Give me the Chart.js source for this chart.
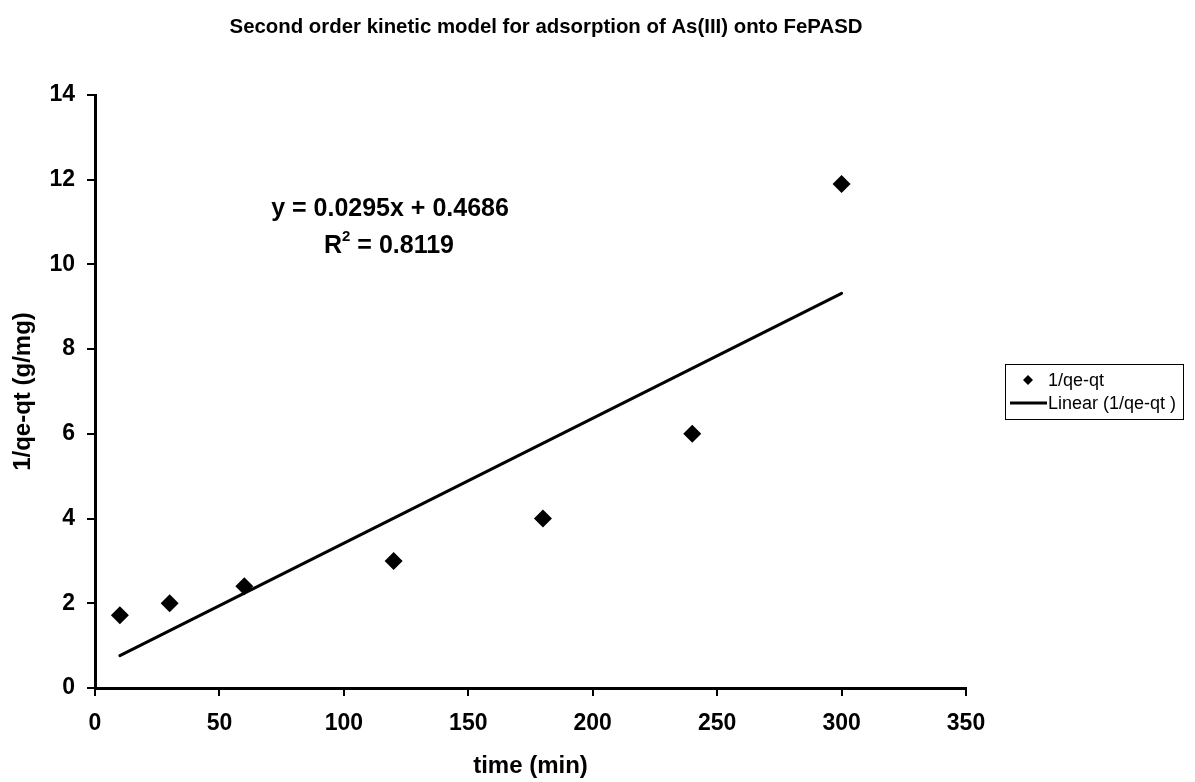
<!DOCTYPE html>
<html>
<head>
<meta charset="utf-8">
<script src="https://cdn.jsdelivr.net/npm/chart.js@4.4.1/dist/chart.umd.min.js"></script>
<style>
  html, body { margin: 0; padding: 0; background: #fff; }
  #wrap { width: 1195px; height: 782px; position: relative; }
</style>
</head>
<body>
<div id="wrap"><canvas id="c" width="1195" height="782"></canvas></div>
<script>
// Measured contact times (min) and the linearised uptake 1/(qe-qt) (g/mg)
const timeMin = [10, 30, 60, 120, 180, 240, 300];
const invQ = [1.72, 2.0, 2.4, 3.0, 4.0, 6.0, 11.9];

// Least-squares trendline as reported on the chart
const fitSlope = 0.0295;
const fitIntercept = 0.4686;
const fitR2 = 0.8119;
const fitRange = [10, 300];

const xTicks = [0, 50, 100, 150, 200, 250, 300, 350];
const yTicks = [0, 2, 4, 6, 8, 10, 12, 14];

const chartTitle = 'Second order kinetic model for adsorption of As(III) onto FePASD';
const seriesName = '1/qe-qt';
const trendName = 'Linear (1/qe-qt )';

const FONT = '"Liberation Sans", Arial, sans-serif';

const pointData = timeMin.map((t, i) => ({ x: t, y: invQ[i] }));
const trendData = fitRange.map(t => ({ x: t, y: fitSlope * t + fitIntercept }));

// Title, equation text and boxed legend drawn on the canvas
const decorations = {
  id: 'decorations',
  afterDraw(chart) {
    const ctx = chart.ctx;
    ctx.save();
    ctx.fillStyle = '#000';
    ctx.textBaseline = 'middle';

    // chart title
    ctx.font = 'bold 20.4px ' + FONT;
    ctx.textAlign = 'center';
    ctx.fillText(chartTitle, 546, 27);

    // trendline equation
    ctx.font = 'bold 25px ' + FONT;
    ctx.fillText('y = ' + fitSlope.toFixed(4) + 'x + ' + fitIntercept.toFixed(4), 390, 209);
    const rest = ' = ' + fitR2.toFixed(4);
    const wR = ctx.measureText('R').width;
    ctx.font = 'bold 15px ' + FONT;
    const w2 = ctx.measureText('2').width;
    ctx.font = 'bold 25px ' + FONT;
    const wRest = ctx.measureText(rest).width;
    const x0 = 389 - (wR + w2 + wRest) / 2;
    ctx.textAlign = 'left';
    ctx.fillText('R', x0, 246);
    ctx.font = 'bold 15px ' + FONT;
    ctx.fillText('2', x0 + wR, 237);
    ctx.font = 'bold 25px ' + FONT;
    ctx.fillText(rest, x0 + wR + w2, 246);

    // legend box
    ctx.strokeStyle = '#000';
    ctx.lineWidth = 1;
    ctx.strokeRect(1005.5, 364.5, 178, 55);
    ctx.font = '18px ' + FONT;
    // marker entry
    ctx.beginPath();
    ctx.moveTo(1028, 375); ctx.lineTo(1033, 380); ctx.lineTo(1028, 385); ctx.lineTo(1023, 380);
    ctx.closePath();
    ctx.fill();
    ctx.fillText(seriesName, 1048, 381);
    // line entry
    ctx.lineWidth = 3;
    ctx.beginPath();
    ctx.moveTo(1010, 403); ctx.lineTo(1047, 403);
    ctx.stroke();
    ctx.fillText(trendName, 1048, 404);
    ctx.restore();
  }
};

new Chart(document.getElementById('c'), {
  type: 'scatter',
  data: {
    datasets: [
      {
        label: seriesName,
        data: pointData,
        pointStyle: 'rectRot',
        pointRadius: 9,
        pointHoverRadius: 9,
        backgroundColor: '#000',
        borderColor: '#000',
        borderWidth: 0,
        order: 1
      },
      {
        label: trendName,
        data: trendData,
        showLine: true,
        pointRadius: 0,
        borderColor: '#000',
        borderWidth: 3,
        borderCapStyle: 'round',
        order: 2
      }
    ]
  },
  options: {
    responsive: false,
    animation: false,
    layout: { padding: { left: 0, right: 229, top: 95, bottom: 0 } },
    plugins: {
      legend: { display: false },
      tooltip: { enabled: false },
      title: { display: false }
    },
    scales: {
      x: {
        type: 'linear',
        min: 0,
        max: 350,
        afterBuildTicks(scale) { scale.ticks = xTicks.map(v => ({ value: v })); },
        afterFit(scale) { scale.height = 94; },
        border: { display: true, color: '#000', width: 3 },
        grid: { display: true, drawOnChartArea: false, drawTicks: true, tickLength: 8, tickColor: '#000', lineWidth: 2 },
        ticks: { color: '#000', padding: 14, font: { family: FONT, size: 23, weight: 'bold' }, maxRotation: 0 },
        title: { display: true, text: 'time (min)', color: '#000', font: { family: FONT, size: 24, weight: 'bold' }, padding: { top: 0, bottom: 1 } }
      },
      y: {
        type: 'linear',
        min: 0,
        max: 14,
        afterBuildTicks(scale) { scale.ticks = yTicks.map(v => ({ value: v })); },
        afterFit(scale) { scale.width = 95; },
        border: { display: true, color: '#000', width: 3 },
        grid: { display: true, drawOnChartArea: false, drawTicks: true, tickLength: 8, tickColor: '#000', lineWidth: 2 },
        ticks: { color: '#000', padding: 12, font: { family: FONT, size: 23, weight: 'bold' } },
        title: { display: true, text: '1/qe-qt (g/mg)', color: '#000', font: { family: FONT, size: 24, weight: 'bold' }, padding: { top: 9, bottom: 0 } }
      }
    }
  },
  plugins: [decorations]
});
</script>
</body>
</html>
